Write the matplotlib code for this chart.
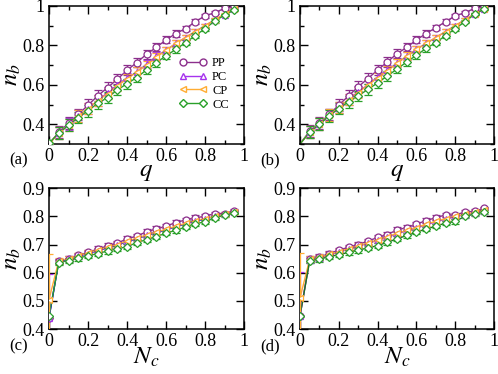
import numpy as np
import matplotlib.pyplot as plt
from matplotlib.ticker import MultipleLocator
from matplotlib.lines import Line2D

plt.rcParams['font.family'] = ['Liberation Serif', 'DejaVu Serif']
plt.rcParams['mathtext.fontset'] = 'stix'

x = np.arange(20) * 0.05

# panel (a)
a_pp = [0.30, 0.36, 0.405, 0.45, 0.497, 0.544, 0.586, 0.628, 0.674, 0.713, 0.755, 0.79, 0.828, 0.86, 0.885, 0.92, 0.95, 0.966, 0.988, 1.0]
a_pc = [0.30, 0.355, 0.40, 0.44, 0.48, 0.52, 0.56, 0.60, 0.635, 0.665, 0.705, 0.745, 0.775, 0.81, 0.84, 0.87, 0.90, 0.93, 0.955, 0.985]
a_cp = [0.30, 0.355, 0.395, 0.44, 0.48, 0.52, 0.555, 0.595, 0.63, 0.665, 0.70, 0.74, 0.775, 0.81, 0.84, 0.87, 0.90, 0.93, 0.96, 0.985]
a_cc = [0.304, 0.355, 0.395, 0.434, 0.468, 0.507, 0.535, 0.574, 0.606, 0.637, 0.676, 0.713, 0.747, 0.78, 0.814, 0.85, 0.885, 0.924, 0.953, 0.98]
a_err = [0.0, 0.03, 0.03, 0.03, 0.03, 0.028, 0.027, 0.026, 0.025, 0.024, 0.022, 0.02, 0.018, 0.016, 0.014, 0.012, 0.01, 0.008, 0.006, 0.004]

# panel (b)
b_pp = [0.30, 0.366, 0.405, 0.45, 0.497, 0.544, 0.59, 0.632, 0.675, 0.716, 0.758, 0.79, 0.828, 0.86, 0.89, 0.92, 0.95, 0.966, 0.988, 1.0]
b_pc = [0.30, 0.36, 0.40, 0.445, 0.485, 0.525, 0.565, 0.60, 0.64, 0.675, 0.71, 0.745, 0.78, 0.81, 0.84, 0.87, 0.90, 0.93, 0.96, 0.985]
b_cp = [0.30, 0.36, 0.40, 0.445, 0.485, 0.525, 0.56, 0.60, 0.635, 0.67, 0.71, 0.745, 0.78, 0.81, 0.84, 0.87, 0.90, 0.93, 0.96, 0.985]
b_cc = [0.30, 0.36, 0.40, 0.442, 0.48, 0.513, 0.544, 0.577, 0.61, 0.645, 0.68, 0.716, 0.75, 0.785, 0.814, 0.85, 0.885, 0.92, 0.958, 0.983]

# panel (c)
c_pp = [0.44, 0.64, 0.65, 0.662, 0.672, 0.684, 0.695, 0.705, 0.72, 0.73, 0.745, 0.755, 0.765, 0.778, 0.787, 0.795, 0.80, 0.81, 0.81, 0.82]
c_pc = [0.44, 0.64, 0.648, 0.658, 0.668, 0.678, 0.688, 0.698, 0.71, 0.72, 0.732, 0.742, 0.752, 0.763, 0.773, 0.783, 0.79, 0.80, 0.808, 0.815]
c_cp = [0.505, 0.642, 0.65, 0.66, 0.67, 0.68, 0.69, 0.70, 0.712, 0.722, 0.734, 0.744, 0.754, 0.765, 0.775, 0.785, 0.792, 0.80, 0.808, 0.815]
c_cc = [0.446, 0.636, 0.643, 0.652, 0.66, 0.668, 0.677, 0.685, 0.692, 0.707, 0.717, 0.727, 0.741, 0.75, 0.762, 0.774, 0.78, 0.795, 0.803, 0.813]

# panel (d)
d_pp = [0.447, 0.648, 0.655, 0.668, 0.68, 0.69, 0.70, 0.712, 0.725, 0.735, 0.752, 0.76, 0.772, 0.785, 0.795, 0.805, 0.805, 0.815, 0.818, 0.828]
d_pc = [0.447, 0.646, 0.652, 0.663, 0.673, 0.683, 0.694, 0.704, 0.715, 0.725, 0.738, 0.748, 0.758, 0.77, 0.78, 0.79, 0.798, 0.806, 0.812, 0.82]
d_cp = [0.51, 0.648, 0.654, 0.665, 0.675, 0.685, 0.695, 0.705, 0.717, 0.727, 0.74, 0.75, 0.76, 0.772, 0.782, 0.792, 0.80, 0.808, 0.814, 0.822]
d_cc = [0.447, 0.643, 0.648, 0.657, 0.664, 0.672, 0.68, 0.688, 0.696, 0.708, 0.72, 0.732, 0.744, 0.755, 0.765, 0.776, 0.782, 0.80, 0.808, 0.815]
cd_err = [0.0, 0.01, 0.01, 0.009, 0.009, 0.009, 0.009, 0.009, 0.009, 0.009, 0.009, 0.009, 0.008, 0.008, 0.008, 0.008, 0.008, 0.007, 0.007, 0.006]
c_err0 = {'PC': 0.155, 'CP': 0.16}

names = ['PP', 'PC', 'CP', 'CC']
colors = {'PP': '#8c2f8c', 'PC': '#a633ee', 'CP': '#ffad33', 'CC': '#2aa02a'}
markers = {'PP': 'o', 'PC': '^', 'CP': '<', 'CC': 'D'}
msize = {'PP': 5, 'PC': 5, 'CP': 5, 'CC': 4.2}

fig = plt.figure(figsize=(4.98, 3.74), dpi=100)
axa = fig.add_axes([0.0984, 0.615, 0.3916, 0.369])
axb = fig.add_axes([0.6024, 0.615, 0.3896, 0.369])
axc = fig.add_axes([0.0984, 0.120, 0.3916, 0.377])
axd = fig.add_axes([0.6024, 0.120, 0.3896, 0.377])


def draw(ax, series, err, line_over=None, skip0=False):
    for n in names:
        y = np.array(series[n])
        e = np.array(err[n])
        lc = colors[n]
        if line_over and n in line_over:
            lc = line_over[n]
        ax.plot(x, y, color=lc, lw=1, zorder=2)
        start = 1 if skip0 else 0
        ax.errorbar(x[start:], y[start:], yerr=e[start:], fmt=markers[n], ms=msize[n],
                    mfc='white', mec=colors[n], mew=0.9, ecolor=colors[n],
                    elinewidth=0.9, capsize=3, capthick=0.9, zorder=3)


ea = {n: a_err for n in names}
draw(axa, {'PP': a_pp, 'PC': a_pc, 'CP': a_cp, 'CC': a_cc}, ea)
draw(axb, {'PP': b_pp, 'PC': b_pc, 'CP': b_cp, 'CC': b_cc}, ea, skip0=True)

ec = {n: list(cd_err) for n in names}
for n, v in c_err0.items():
    ec[n][0] = v
draw(axc, {'PP': c_pp, 'PC': c_pc, 'CP': c_cp, 'CC': c_cc}, ec, line_over={'PC': '#0000ff'})
draw(axd, {'PP': d_pp, 'PC': d_pc, 'CP': d_cp, 'CC': d_cc}, ec, line_over={'CC': '#1a7a1a'})

for ax in (axa, axb):
    ax.set_xlim(0, 1)
    ax.set_ylim(0.3, 1.0)
    ax.yaxis.set_major_locator(MultipleLocator(0.2))
    ax.yaxis.set_minor_locator(MultipleLocator(0.1))
    ax.set_xlabel('$q$', fontsize=18, labelpad=-3)
for ax in (axc, axd):
    ax.set_xlim(0, 1)
    ax.set_ylim(0.4, 0.9)
    ax.yaxis.set_major_locator(MultipleLocator(0.1))
    ax.set_xlabel('$N_c$', fontsize=18, labelpad=-3)

for ax in (axa, axb, axc, axd):
    ax.xaxis.set_major_locator(MultipleLocator(0.2))
    ax.xaxis.set_minor_locator(MultipleLocator(0.1))
    ax.xaxis.set_major_formatter(plt.FuncFormatter(lambda v, p: '%g' % round(v, 2)))
    ax.yaxis.set_major_formatter(plt.FuncFormatter(lambda v, p: '%g' % round(v, 2)))
    ax.tick_params(which='both', direction='in', top=True, right=True, labelsize=13)
    ax.tick_params(which='major', length=6, width=1, pad=3)
    ax.tick_params(which='minor', length=3, width=1)
    ax.set_ylabel('$n_b$', fontsize=18, labelpad=0)
    for s in ax.spines.values():
        s.set_linewidth(1.1)

handles = [Line2D([], [], color=colors[n], marker=markers[n], ms=msize[n], mfc='white',
                  mec=colors[n], lw=1) for n in names]
axa.legend(handles, names, loc='lower right', bbox_to_anchor=(0.98, 0.16), frameon=False,
           fontsize=9, numpoints=2, handlelength=2.2, handletextpad=0.4, labelspacing=0.15)

for lbl, yy in (('(a)', 0.56), ('(b)', 0.56), ('(c)', 0.063), ('(d)', 0.063)):
    xx = 0.018 if lbl in ('(a)', '(c)') else 0.522
    fig.text(xx, yy, lbl, fontsize=12)

fig.savefig('out.png', dpi=100)
